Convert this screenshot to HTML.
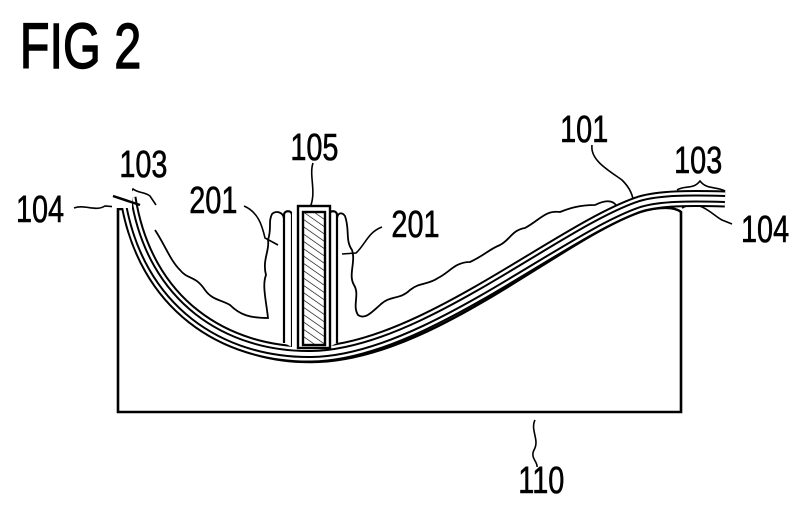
<!DOCTYPE html>
<html><head><style>
html,body{margin:0;padding:0;background:#fff;}
svg{display:block}
text{font-family:"Liberation Sans",sans-serif;fill:#000;stroke:#000;stroke-width:0.6;}
</style></head><body>
<svg width="810" height="513" viewBox="0 0 810 513" xmlns="http://www.w3.org/2000/svg">
<defs>
<pattern id="h" width="6" height="6" patternUnits="userSpaceOnUse" patternTransform="rotate(-55)">
<line x1="0" y1="0" x2="0" y2="6" stroke="#000" stroke-width="1.3"/>
</pattern>
</defs>
<g transform="scale(0.76,1)">
<text x="26" y="68" font-size="64" style="stroke-width:1.4">FIG 2</text>
<text x="21" y="222" font-size="38">104</text>
<text x="157" y="177" font-size="38">103</text>
<text x="382" y="160" font-size="38">105</text>
<text x="249" y="213" font-size="38">201</text>
<text x="515" y="237" font-size="38">201</text>
<text x="737" y="142" font-size="38">101</text>
<text x="887" y="173" font-size="38">103</text>
<text x="975" y="242" font-size="38">104</text>
<text x="682" y="493" font-size="38">110</text>
</g>
<g fill="none" stroke="#000" stroke-width="1.6">
<path d="M74,208 C85,204 95,212 105,206 L117,207"/>
<path d="M113,196 C120,190 128,196 133,189 C138,193 145,192 150,196 L156,205"/>
<path d="M313,163 C309,175 316,190 311,205 C309,215 314,222 312,228"/>
<path d="M244,206 C258,212 262,225 265,238 L278,245"/>
<path d="M382,227 C368,232 365,245 356,253 L342,254"/>
<path d="M592,145 C590,160 608,170 622,180 C630,188 633,195 634,205"/>
<path d="M677,190 C685,185 693,190 700,181 C707,190 716,186 725,191"/>
<path d="M682,208 C700,198 712,215 722,220 L732,224"/>
<path d="M535,420 C530,430 540,440 534,450 C530,458 538,462 537,467"/>
</g>
<path d="M118,412 L118,209 L137,209 C160,320 230,362 311,362 C430,362 560,240 640,212 C660,206 675,207 681,212 L681,412 Z" fill="#fff" stroke="#000" stroke-width="2.6"/>
<path d="M155,230 C165,245 170,260 180,270 C188,280 195,275 205,290 C212,300 222,300 230,305 C240,315 250,318 268,318 C266,300 262,285 266,275 C262,260 270,250 268,240 C272,228 268,222 272,214 C276,210 284,212 284,220" fill="none" stroke="#000" stroke-width="1.8"/>
<path d="M337,220 C337,212 342,212 345,216 C350,230 345,240 352,250 C356,262 348,275 354,285 C360,295 352,305 358,315 C365,320 372,312 380,305 C390,295 400,300 410,290 C420,282 428,285 438,278 C450,272 455,262 470,262 C485,255 488,250 500,245 C510,240 512,230 525,228 C540,220 545,210 560,212 C570,208 580,205 595,205 C605,200 612,200 616,205" fill="none" stroke="#000" stroke-width="1.8"/>
<g fill="none">
<path d="M128,198 C145,305 225,355 311,354 C420,353 560,231 640,204 C660,198 690,198 725,199" stroke="#000" stroke-width="17"/>
<path d="M128,198 C145,305 225,355 311,354 C420,353 560,231 640,204 C660,198 690,198 725,199" stroke="#fff" stroke-width="13"/>
<path d="M128,198 C145,305 225,355 311,354 C420,353 560,231 640,204 C660,198 690,198 725,199" stroke="#000" stroke-width="8"/>
<path d="M128,198 C145,305 225,355 311,354 C420,353 560,231 640,204 C660,198 690,198 725,199" stroke="#fff" stroke-width="4"/>
</g>
<rect x="112" y="180" width="20" height="28" fill="#fff"/>
<path d="M113,196 L140,205" stroke="#000" stroke-width="2.5"/>
<g fill="#fff" stroke="#000" stroke-width="2.2">
<path d="M284,343 L284,215 C284,210 292,210 292,215 L292,347"/>
<path d="M337,343 L337,215 C337,210 329,210 329,215 L329,347"/>
</g>
<rect x="292" y="212" width="37" height="137" fill="#fff"/>
<rect x="298" y="206" width="32" height="142" fill="#fff" stroke="#000" stroke-width="2.4"/>
<rect x="303" y="212" width="22" height="133" fill="url(#h)" stroke="#000" stroke-width="2.4"/>
</svg>
</body></html>
